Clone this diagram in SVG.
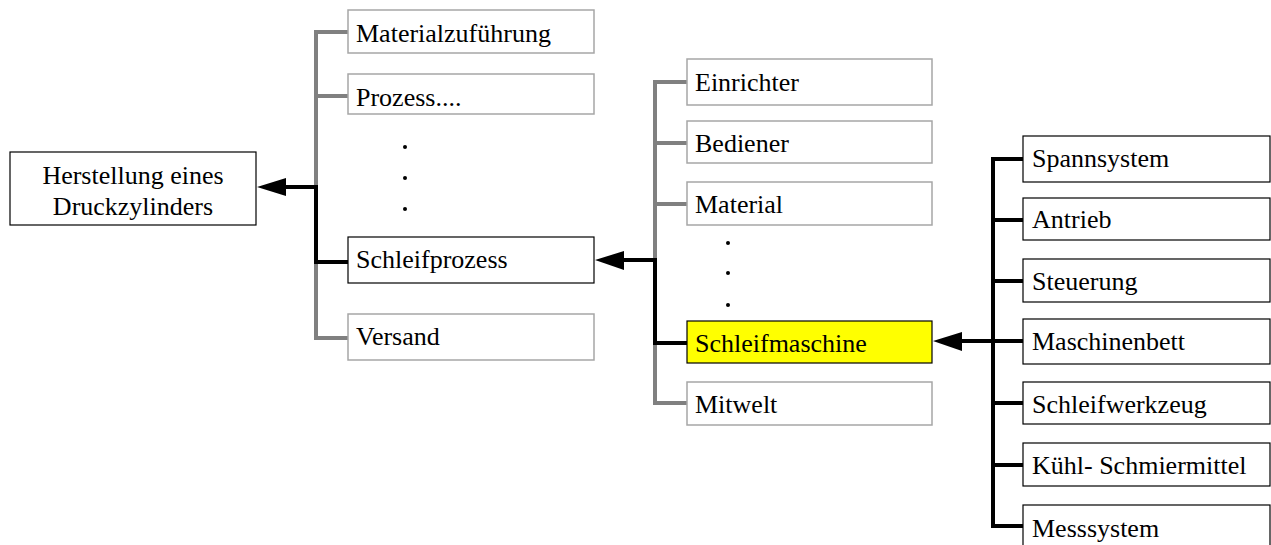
<svg xmlns="http://www.w3.org/2000/svg" width="1271" height="545" viewBox="0 0 1271 545">
<style>
text{font-family:'Liberation Serif','Times New Roman',Tinos,'DejaVu Serif',serif;font-size:26px;fill:#000}
.g{fill:#fff;stroke:#a6a6a6;stroke-width:1.5}
.b{fill:#fff;stroke:#000;stroke-width:1.2}
.y{fill:#ffff00;stroke:#000;stroke-width:1.2}
.cg{fill:none;stroke:#808080;stroke-width:4}
.cb{fill:none;stroke:#000;stroke-width:4}
.ah{fill:#000}
.dot{fill:#000}
</style>
<g id="connectors">
<path class="cg" d="M348,32 H316 V338 H348 M316,96 H348"/>
<path class="cb" d="M348,262 H316 V187 H280"/>
<polygon class="ah" points="257,187 286,178 286,196"/>
<path class="cg" d="M687,82 H655 V403 H687 M655,143 H687 M655,204 H687"/>
<path class="cb" d="M687,343 H655 V260 H620"/>
<polygon class="ah" points="595,260 624,251 624,270"/>
<path class="cb" d="M1023,159 H993 V526 H1023 M993,220 H1023 M993,281 H1023 M993,403 H1023 M993,465 H1023"/>
<path class="cb" d="M1023,341 H955"/>
<polygon class="ah" points="933,341 962,332 962,351"/>
</g>
<g id="n-herstellung"><rect class="b" x="10" y="152" width="246" height="73"/><text x="133" y="184" text-anchor="middle">Herstellung eines</text><text x="133" y="215" text-anchor="middle">Druckzylinders</text></g>
<g id="n-materialzufuehrung"><rect class="g" x="348" y="10" width="246" height="43"/><text x="356" y="42">Materialzuführung</text></g>
<g id="n-prozess"><rect class="g" x="348" y="74" width="246" height="40"/><text x="356" y="106">Prozess....</text></g>
<g id="dots1"><circle class="dot" cx="405" cy="147" r="2"/><circle class="dot" cx="405" cy="178" r="2"/><circle class="dot" cx="405" cy="209" r="2"/></g>
<g id="n-schleifprozess"><rect class="b" x="348" y="237" width="246" height="46"/><text x="356" y="268">Schleifprozess</text></g>
<g id="n-versand"><rect class="g" x="348" y="314" width="246" height="46"/><text x="356" y="345">Versand</text></g>
<g id="n-einrichter"><rect class="g" x="687" y="59" width="245" height="46"/><text x="695" y="91">Einrichter</text></g>
<g id="n-bediener"><rect class="g" x="687" y="121" width="245" height="42"/><text x="695" y="152">Bediener</text></g>
<g id="n-material"><rect class="g" x="687" y="182" width="245" height="43"/><text x="695" y="213">Material</text></g>
<g id="dots2"><circle class="dot" cx="728" cy="243" r="2"/><circle class="dot" cx="728" cy="273" r="2"/><circle class="dot" cx="728" cy="305" r="2"/></g>
<g id="n-schleifmaschine"><rect class="y" x="687" y="321" width="245" height="42"/><text x="695" y="352">Schleifmaschine</text></g>
<g id="n-mitwelt"><rect class="g" x="687" y="382" width="245" height="43"/><text x="695" y="413">Mitwelt</text></g>
<g id="n-spannsystem"><rect class="b" x="1023" y="136" width="247" height="46"/><text x="1032" y="167">Spannsystem</text></g>
<g id="n-antrieb"><rect class="b" x="1023" y="198" width="247" height="42"/><text x="1032" y="228">Antrieb</text></g>
<g id="n-steuerung"><rect class="b" x="1023" y="259" width="247" height="43"/><text x="1032" y="290">Steuerung</text></g>
<g id="n-maschinenbett"><rect class="b" x="1023" y="319" width="247" height="45"/><text x="1032" y="350">Maschinenbett</text></g>
<g id="n-schleifwerkzeug"><rect class="b" x="1023" y="382" width="247" height="42"/><text x="1032" y="413">Schleifwerkzeug</text></g>
<g id="n-kuehl"><rect class="b" x="1023" y="443" width="247" height="43"/><text x="1032" y="474">Kühl- Schmiermittel</text></g>
<g id="n-messsystem"><rect class="b" x="1023" y="505" width="247" height="43"/><text x="1032" y="537">Messsystem</text></g>
</svg>
